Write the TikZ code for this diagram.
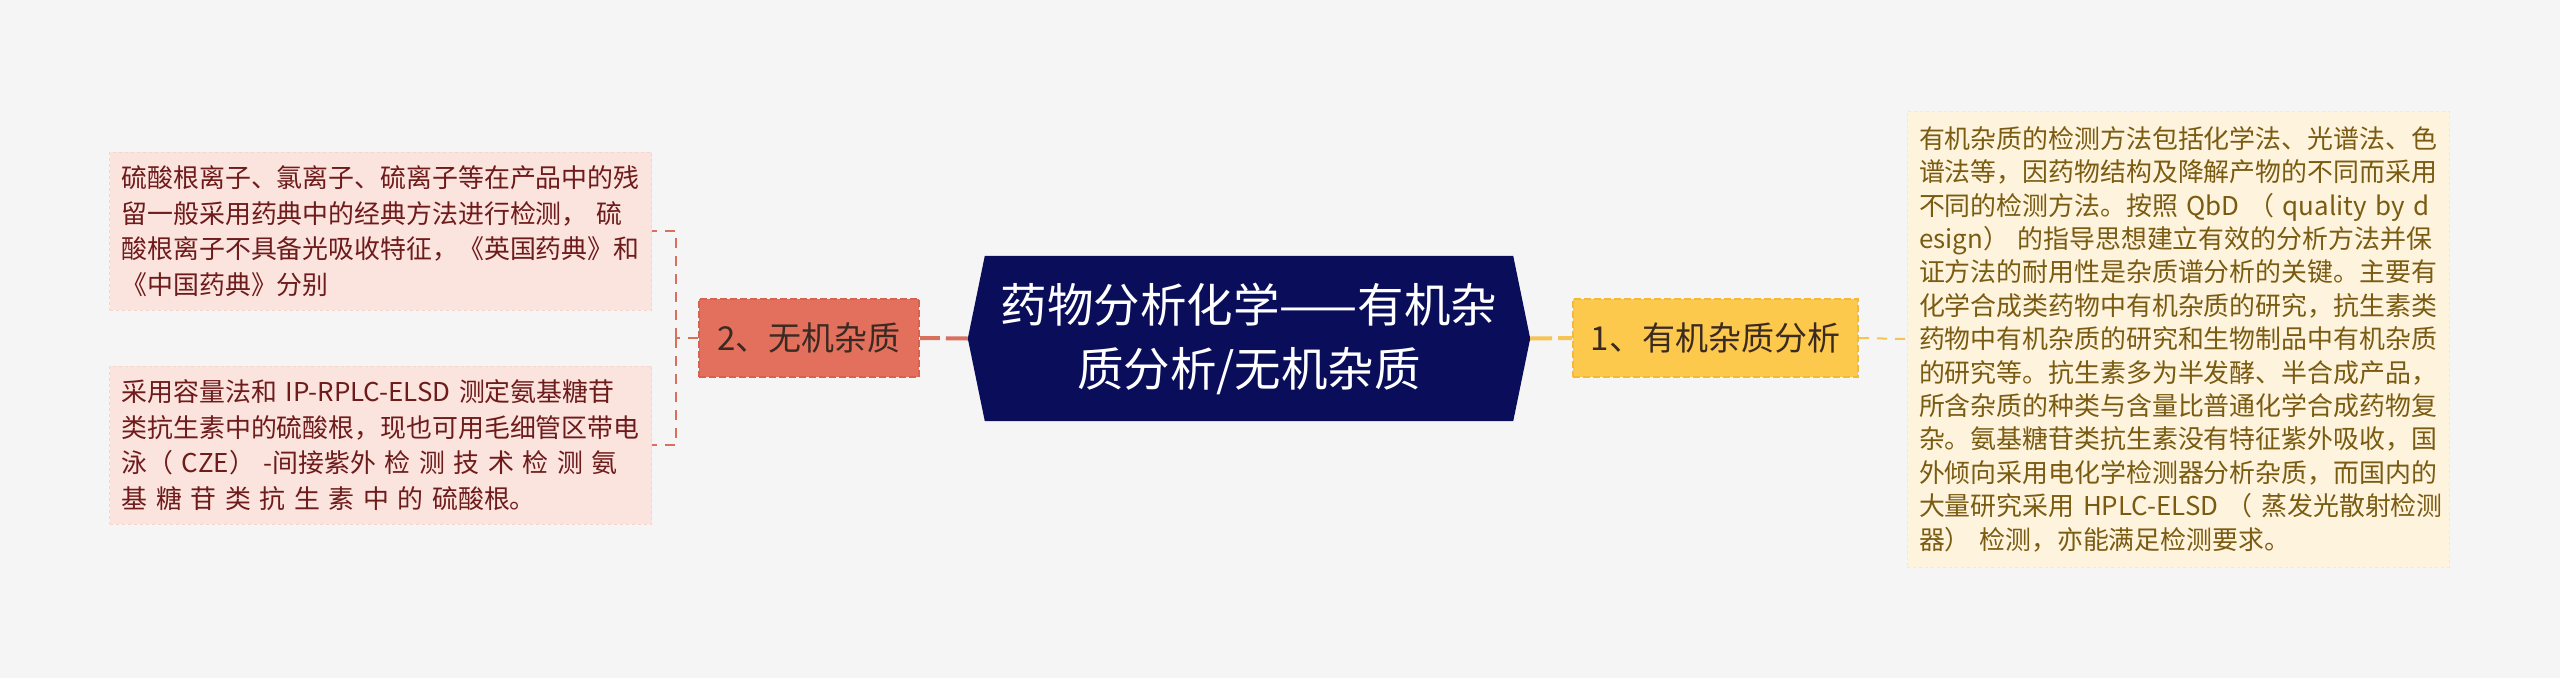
\documentclass[tikz,border=0pt]{standalone}
\usepackage{fontspec}
\setmainfont{Noto Sans CJK SC}
\usetikzlibrary{backgrounds}
\definecolor{bgc}{HTML}{F5F5F5}
\definecolor{navy}{HTML}{0A0E5A}
\definecolor{coral}{HTML}{E3705D}
\definecolor{coralline}{HTML}{D9705E}
\definecolor{coraledge}{HTML}{D8624F}
\definecolor{gold}{HTML}{FDC94C}
\definecolor{goldedge}{HTML}{F2B93A}
\definecolor{goldline}{HTML}{F5C455}
\definecolor{pinkbox}{HTML}{FBE3DE}
\definecolor{pinkedge}{HTML}{F6D3CC}
\definecolor{pinktext}{HTML}{6E1B1B}
\definecolor{creambox}{HTML}{FEF3DC}
\definecolor{creamedge}{HTML}{F8E8C6}
\definecolor{creamtext}{HTML}{7A5B12}
\definecolor{darktext}{HTML}{3A2A22}
\begin{document}
\begin{tikzpicture}[x=1pt,y=-1pt,
  leafL/.style={fill=pinkbox, draw=pinkedge, dashed, line width=1pt, text=pinktext,
    text width=518pt, align=left, inner xsep=12pt, inner ysep=8pt,
    font=\fontsize{25.9}{35.6}\selectfont},
  leafR/.style={fill=creambox, draw=creamedge, dashed, line width=1pt, text=creamtext,
    text width=518pt, align=left, inner xsep=12pt, inner ysep=8pt,
    font=\fontsize{25.9}{33.4}\selectfont},
  branch/.style={line width=2pt, dash pattern=on 7pt off 3pt, inner sep=0pt,
    minimum height=78pt, font=\fontsize{33}{38}\selectfont},
  thickconn/.style={line width=4pt, dash pattern=on 22pt off 6pt},
  thinconn/.style={line width=2pt, dash pattern=on 10pt off 8pt}]
\useasboundingbox (0,0) rectangle (2560,678);

\node[text=white, align=center, inner sep=0pt, minimum width=562pt, minimum height=165pt,
  font=\fontsize{46.5}{64}\selectfont] (c) at (1249,338.5) {药物分析化学——有机杂\\质分析/无机杂质};

\node[branch, fill=coral, draw=coraledge, text=darktext, minimum width=220pt] (n2) at (809,338) {2、无机杂质};
\node[branch, fill=gold, draw=goldedge, text=darktext, minimum width=285pt] (n1) at (1715.5,338) {1、有机杂质分析};

\node[leafL, minimum height=158pt] (b1) at (380.5,231) {硫酸根离子、氯离子、硫离子等在产品中的残\\留一般采用药典中的经典方法进行检测， 硫\\酸根离子不具备光吸收特征，《英国药典》和\\《中国药典》分别};
\node[leafL, minimum height=158pt] (b2) at (380.5,445) {采用容量法和 IP-RPLC-ELSD 测定氨基糖苷\\类抗生素中的硫酸根，现也可用毛细管区带电\\\makebox[493pt][s]{泳（ CZE） -间接紫外 检 测 技 术 检 测 氨}\\\makebox[389pt][s]{基 糖 苷 类 抗 生 素 中 的 硫酸根。}};

\node[leafR, minimum height=456pt] (rb) at (2178,339) {有机杂质的检测方法包括化学法、光谱法、色\\谱法等，因药物结构及降解产物的不同而采用\\\makebox[492pt][s]{不同的检测方法。按照 QbD （ quality by d}\\\makebox[516pt][s]{esign） 的指导思想建立有效的分析方法并保}\\证方法的耐用性是杂质谱分析的关键。主要有\\化学合成类药物中有机杂质的研究，抗生素类\\药物中有机杂质的研究和生物制品中有机杂质\\的研究等。抗生素多为半发酵、半合成产品，\\所含杂质的种类与含量比普通化学合成药物复\\杂。氨基糖苷类抗生素没有特征紫外吸收，国\\外倾向采用电化学检测器分析杂质，而国内的\\\makebox[516pt][s]{大量研究采用 HPLC-ELSD （ 蒸发光散射检测}\\器） 检测，亦能满足检测要求。};

\begin{scope}[on background layer]
\fill[bgc] (0,0) rectangle (2560,678);
\fill[navy] ([xshift=17pt]c.north west) -- ([xshift=-17pt]c.north east) -- (c.east)
  -- ([xshift=-17pt]c.south east) -- ([xshift=17pt]c.south west) -- (c.west) -- cycle;
\draw[coralline, thickconn] (c.west) -- (n2.east);
\draw[goldline, thickconn] (c.east) -- (n1.west);
\draw[goldline, thinconn] (n1.east) -- (rb.west);
\draw[coralline, thinconn] (n2.west) -- ++(-22,0) coordinate (bj);
\draw[coralline, thinconn] (bj) |- (b1.east);
\draw[coralline, thinconn] (bj) |- (b2.east);
\end{scope}
\end{tikzpicture}
\end{document}
